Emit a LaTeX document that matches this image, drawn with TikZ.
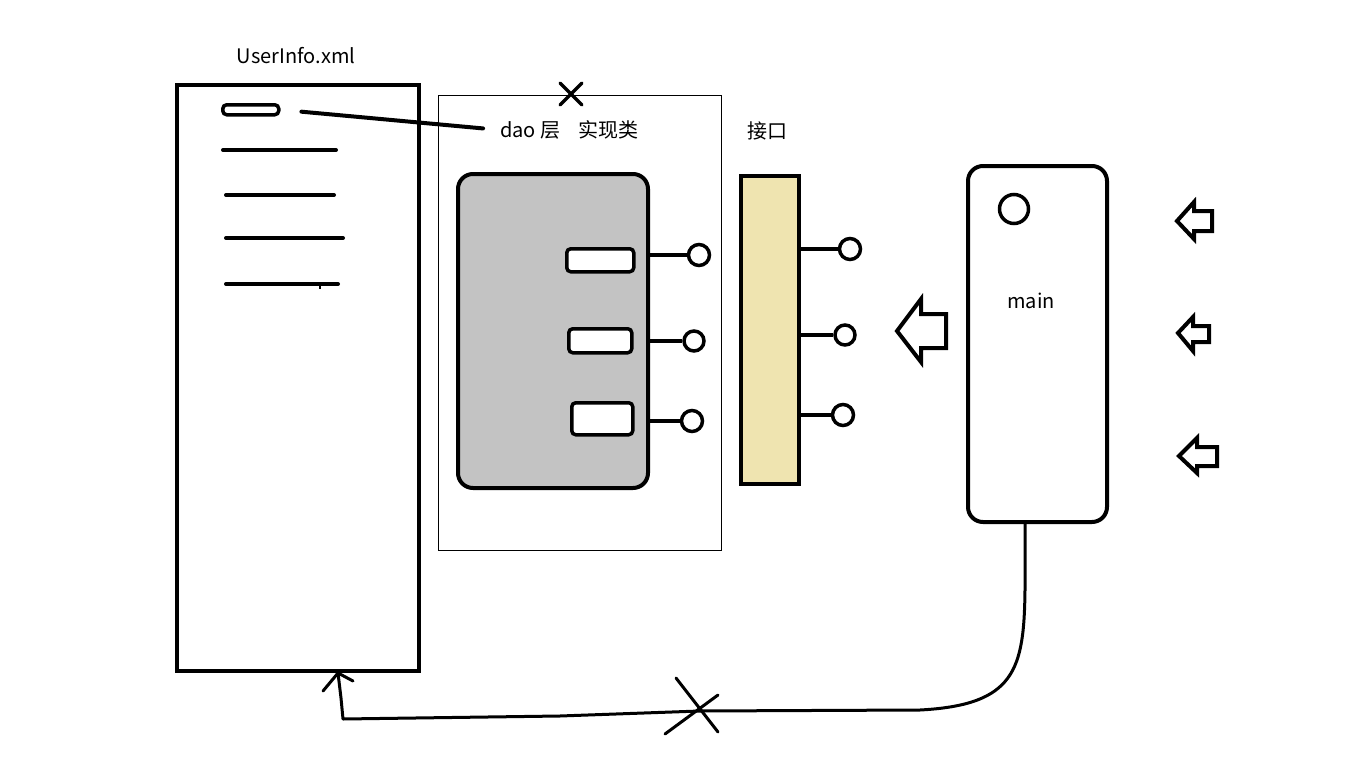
\documentclass[tikz,border=0pt]{standalone}
\usepackage{fontspec}
\setmainfont{Noto Sans CJK SC}
\usetikzlibrary{calc}
\definecolor{daogray}{RGB}{195,195,195}
\definecolor{ifacetan}{RGB}{239,228,176}

\begin{document}
\begin{tikzpicture}[x=1pt,y=-1pt,
  box/.style={draw, line width=4pt, inner sep=0pt, outer sep=1pt, anchor=north west},
  slot/.style={draw, line width=3.5pt, rounded corners=4pt, fill=white, inner sep=0pt, anchor=north west},
  pin/.style={draw, circle, line width=3.5pt, fill=white, inner sep=0pt, minimum size=21pt},
  stem/.style={line width=4pt},
  bar/.style={line width=4pt, line cap=round},
  txt/.style={font=\fontsize{20}{20}\selectfont, inner sep=0pt},
  hollowarrow/.style={line width=4pt, line join=miter},
  cross/.style={line width=3.5pt, line cap=round}
]
\useasboundingbox (0,0) rectangle (1347,760);

% ---------------- UserInfo.xml file ----------------
\node[txt] (uititle) at (296,56) {UserInfo.xml};
\node[box, minimum width=242pt, minimum height=586pt] (ui) at (176,84) {};
\node[slot, minimum width=56pt, minimum height=10pt] (uislot) at (221,103) {};
\draw[bar] (223,150) -- (336,150);
\draw[bar] (226,195) -- (334,195);
\draw[bar] (226,238) -- (343,238);
\draw[bar] (226,284) -- (338,284);
\draw[line width=2pt] (320,284) -- (320,289);

% ---------------- dao implementation ----------------
\node[draw, line width=1pt, inner sep=0pt, anchor=north west,
      minimum width=283pt, minimum height=455pt] (daoframe) at (438,95) {};
\node[txt, anchor=west] (daolabel) at (500,130) {dao 层\hspace{0.9em}实现类};
\draw[line width=4pt, line cap=round, shorten <=21pt, shorten >=17pt] (uislot.east) -- (daolabel.west);

\coordinate (topx) at (571,94);
\draw[cross] ($(topx)+(-11,-11)$) -- ($(topx)+(11,11)$);
\draw[cross] ($(topx)+(-11,11)$) -- ($(topx)+(11,-11)$);

\node[box, fill=daogray, rounded corners=15pt, minimum width=190pt, minimum height=314pt] (impl) at (457,173) {};
\node[slot, minimum width=67pt, minimum height=23pt] (m1) at (565,247) {};
\node[slot, minimum width=63pt, minimum height=24pt] (m2) at (567,327) {};
\node[slot, minimum width=61pt, minimum height=32pt] (m3) at (570,401) {};

\node[pin] (ip1) at (699,255) {};
\node[pin, minimum size=20pt] (ip2) at (694,341) {};
\node[pin] (ip3) at (692,421) {};
\draw[stem] (impl.east |- ip1) -- (ip1);
\draw[stem] (impl.east |- ip2) -- (ip2);
\draw[stem] (impl.east |- ip3) -- (ip3);

% ---------------- interface ----------------
\node[txt] (ifacelabel) at (767,131) {接口};
\node[box, fill=ifacetan, minimum width=58pt, minimum height=308pt] (iface) at (740,175) {};
\node[pin] (fp1) at (850,249) {};
\node[pin, minimum size=20pt] (fp2) at (845,335) {};
\node[pin] (fp3) at (843,415) {};
\draw[stem] (iface.east |- fp1) -- (fp1);
\draw[stem] (iface.east |- fp2) -- (fp2);
\draw[stem] (iface.east |- fp3) -- (fp3);

% big hollow arrow pointing at the interface
\draw[hollowarrow] (897,331) -- (921,299) -- (921,314) -- (946,314) -- (946,348)
  -- (921,348) -- (921,362) -- cycle;

% ---------------- main ----------------
\node[box, rounded corners=15pt, minimum width=139pt, minimum height=356pt] (main) at (967,165) {};
\node[draw, circle, line width=3.5pt, inner sep=0pt, minimum size=29pt] (mainhole) at (1014,209) {};
\node[txt] (mainlabel) at (1031,301) {main};

% small hollow arrows on the right
\draw[hollowarrow] (1177,221) -- (1194,202) -- (1194,211) -- (1212,211) -- (1212,231)
  -- (1194,231) -- (1194,239) -- cycle;
\draw[hollowarrow] (1178,333) -- (1193,317) -- (1193,326) -- (1209,326) -- (1209,342)
  -- (1193,342) -- (1193,351) -- cycle;
\draw[hollowarrow] (1179,456) -- (1197,438) -- (1197,447) -- (1217,447) -- (1217,466)
  -- (1197,466) -- (1197,473) -- cycle;

% ---------------- link from main back to the file ----------------
\coordinate (tip) at (338,673);
\draw[line width=3pt, line join=round, line cap=round]
  (main.south -| 1025,0) -- (1025,590)
  .. controls (1024,670) and (1015,705) .. (920,710)
  -- (700,711) -- (560,716) -- (343,719) -- (341,698) -- (tip);
\draw[line width=3pt, line cap=round] (tip) -- (323,691);
\draw[line width=3pt, line cap=round] (tip) -- (353,681);

\draw[cross, line width=3pt] (676,678) -- (718,732);
\draw[cross, line width=3pt] (665,734) -- (718,695);
\end{tikzpicture}
\end{document}
